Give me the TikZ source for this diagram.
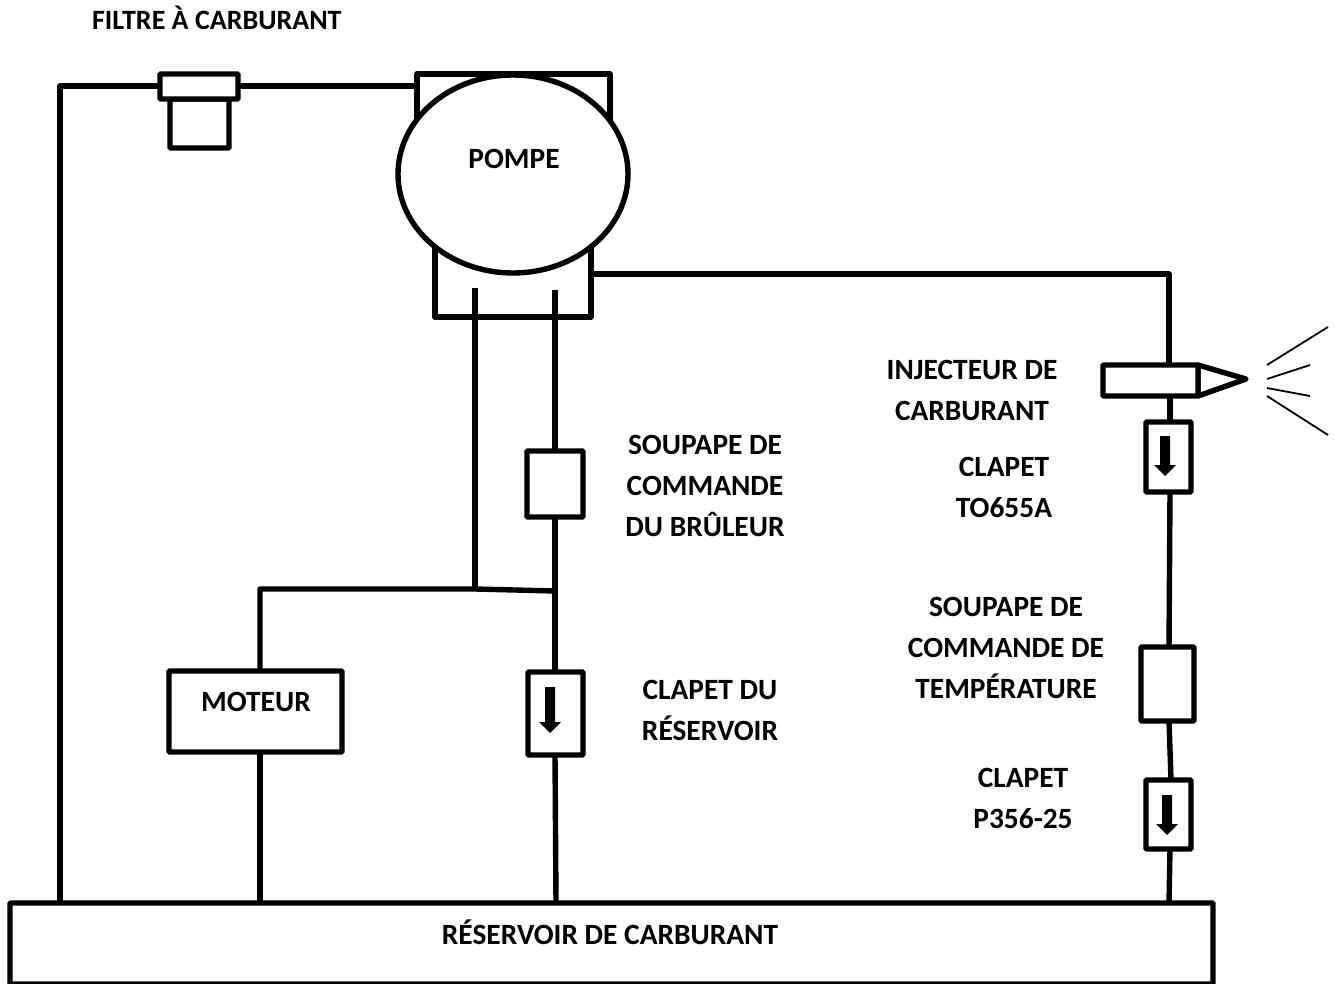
\documentclass[tikz,border=0pt]{standalone}
\usepackage{fontspec}
\usetikzlibrary{shapes.geometric}
\setmainfont{Carlito}
\tikzset{
  x=1pt,y=-1pt,
  pipe/.style={line width=5.4pt,line join=round},
  box/.style={draw,line width=5.4pt,rounded corners=1pt,fill=white,inner sep=0pt,outer sep=0pt,anchor=north west},
  label/.style={font=\bfseries\fontsize{29.4}{41}\selectfont,align=center,inner sep=0pt,outer sep=0pt},
  spray/.style={line width=1.8pt},
  flow/.style={fill=black,draw=none},
}
\newcommand{\flowarrow}[4]{% x, top y, head start y, tip y
  \fill[flow] (#1-5,#2) -- (#1+5,#2) -- (#1+5,#3) -- (#1+11,#3) -- (#1,#4) -- (#1-11,#3) -- (#1-5,#3) -- cycle;
}
\begin{document}
\begin{tikzpicture}
\useasboundingbox (0,0) rectangle (1335,984);
\begin{scope}
\clip (0,0) rectangle (1335,984);
\node[box,minimum width=1203pt,minimum height=81pt] (tank) at (10,903) {};
\end{scope}
% junctions and free ends
\coordinate (leftbend) at (60,86);
\coordinate (lefttank) at (60,903);
\coordinate (ftop) at (160,86);
\coordinate (fr) at (238,86);
\coordinate (pl) at (417,86);
\coordinate (pa) at (475,288);
\coordinate (pb) at (555,290);
\coordinate (ja) at (475,589);
\coordinate (jb) at (555,591);
\coordinate (mbend) at (260,589);
\coordinate (mtop) at (260,671);
\coordinate (mbot) at (260,752);
\coordinate (mtank) at (260,903);
\coordinate (cbot) at (555,755);
\coordinate (ctank) at (556,903);
\coordinate (pr) at (591,274);
\coordinate (rbend) at (1169,274);
\coordinate (injtop) at (1169,365);
\coordinate (injbot) at (1170,396);
\coordinate (ctop) at (1170,422);
\coordinate (cbot2) at (1170,492);
\coordinate (ttop) at (1169,647);
\coordinate (tbot) at (1169,721);
\coordinate (dtop) at (1171,780);
\coordinate (dbot) at (1170,849);
\coordinate (rtank) at (1169,903);
% pipes
\draw[pipe] (lefttank) -- (leftbend) -- (ftop);
\draw[pipe] (fr) -- (pl);
\draw[pipe] (mtop) -- (mbend) -- (ja) -- (jb);
\draw[pipe] (mbot) -- (mtank);
\draw[pipe] (pa) -- (ja);
\draw[pipe] (pb) -- (jb) -- (555,672);
\draw[pipe] (cbot) -- (ctank);
\draw[pipe] (pr) -- (rbend) -- (injtop);
\draw[pipe] (injbot) -- (ctop);
\draw[pipe] (cbot2) -- (ttop);
\draw[pipe] (tbot) -- (dtop);
\draw[pipe] (dbot) -- (rtank);
% filter
\node[box,minimum width=59pt,minimum height=49pt] (filterbody) at (170,99) {};
\node[box,minimum width=78pt,minimum height=25pt] (filtercap) at (160,74) {};
% pump
\draw[pipe] (417,140) -- (417,74) -- (610,74) -- (610,140);
\draw[pipe] (435,240) -- (435,317) -- (591,317) -- (591,240);
\draw[pipe] (475,317) -- (pa);
\draw[pipe] (555,317) -- (pb);
\node[draw,line width=5.4pt,fill=white,ellipse,minimum width=230pt,minimum height=198pt,inner sep=0pt,outer sep=0pt] (pump) at (513,174) {};
\node[label] at (514,159) {POMPE};
% burner valve
\node[box,minimum width=56pt,minimum height=66pt] (burner) at (527,451) {};
% tank valve
\node[box,minimum width=55pt,minimum height=83pt] (tankvalve) at (528,672) {};
\flowarrow{550}{687}{722}{733}
% motor
\node[box,minimum width=173pt,minimum height=81pt] (motor) at (169,671) {};
\node[label] at (256,702) {MOTEUR};
% injector
\draw[pipe,fill=white] (1198,365) -- (1246,379) -- (1198,396) -- cycle;
\node[box,minimum width=95pt,minimum height=31pt] (inj) at (1103,365) {};
\draw[spray] (1267,365) -- (1328,327);
\draw[spray] (1267,379) -- (1310,365);
\draw[spray] (1267,388) -- (1310,396);
\draw[spray] (1267,396) -- (1328,435);
% right valves
\node[box,minimum width=45pt,minimum height=70pt] (to) at (1146,422) {};
\flowarrow{1165}{436}{465}{476}
\node[box,minimum width=53pt,minimum height=74pt] (temp) at (1141,647) {};
\node[box,minimum width=45pt,minimum height=69pt] (p) at (1146,780) {};
\flowarrow{1167}{795}{824}{835}
% labels
\node[label,anchor=west,font=\bfseries\fontsize{28}{41}\selectfont] at (92,18) {FILTRE À CARBURANT};
\node[label] at (705,486) {SOUPAPE DE\\COMMANDE\\DU BRÛLEUR};
\node[label] at (710,710) {CLAPET DU\\RÉSERVOIR};
\node[label] at (972,390) {INJECTEUR DE\\CARBURANT};
\node[label] at (1004,487) {CLAPET\\TO655A};
\node[label] at (1006,648) {SOUPAPE DE\\COMMANDE DE\\TEMPÉRATURE};
\node[label] at (1023,798) {CLAPET\\P356-25};
\node[label] at (610,932) {RÉSERVOIR DE CARBURANT};
\end{tikzpicture}
\end{document}
